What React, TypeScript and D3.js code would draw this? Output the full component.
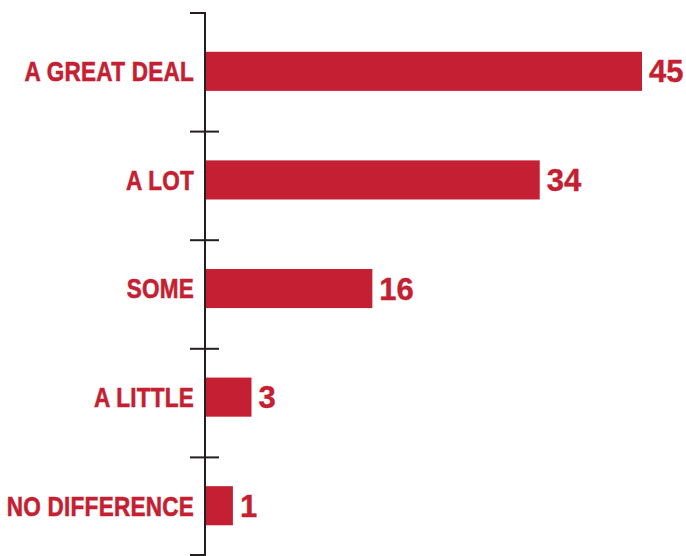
import React from "react";
import * as d3 from "d3";

const categories: string[] = ["A GREAT DEAL", "A LOT", "SOME", "A LITTLE", "NO DIFFERENCE"];
const values: number[] = [45, 34, 16, 3, 1];

const W = 686;
const H = 556;
const RED = "#C41F32";
const AXIS = "#231F20";
const LABEL_FONT = "'Liberation Sans', Arial, sans-serif";
const NUM_FONT = "'Liberation Sans', Arial, sans-serif";

export default function App() {
  const axisX = 205;
  const axisTop = 13;
  const axisBottom = 555;

  const y = d3.scaleBand<string>().domain(categories).range([23, 566]).paddingInner(0).paddingOuter(0);
  const x = d3.scaleLinear().domain([-2, 45]).range([axisX, 642]);

  const bw = y.bandwidth();
  const barH = bw * 0.36;
  const barOff = bw * 0.265;
  const labelFs = 27.5;
  const numFs = 31;
  const narrow = 0.82;

  const tickYs: number[] = [axisTop, ...categories.slice(1).map((c) => y(c) as number), axisBottom];

  return (
    <svg width={W} height={H} style={{ position: "absolute", left: 0, top: 0, background: "#fff" }}>
      {categories.map((c, i) => {
        const top = (y(c) as number) + barOff;
        const cy = top + barH / 2;
        const x1 = x(values[i]);
        return (
          <g key={c}>
            <rect x={axisX} y={top} width={x1 - axisX} height={barH} fill={RED} />
            <text
              transform={`translate(194,${cy + 0.358 * labelFs}) scale(${narrow},1)`}
              textAnchor="end"
              fontFamily={LABEL_FONT}
              fontWeight="bold"
              fontSize={labelFs}
              letterSpacing={0.3}
              fill={RED}
              stroke={RED}
              strokeWidth={0.6}
            >
              {c}
            </text>
            <text
              x={x1 + 7}
              y={cy + 0.358 * numFs}
              fontFamily={NUM_FONT}
              fontWeight="bold"
              fontSize={numFs}
              fill={RED}
              stroke={RED}
              strokeWidth={0.4}
            >
              {values[i]}
            </text>
          </g>
        );
      })}
      <line x1={axisX} x2={axisX} y1={axisTop - 1} y2={axisBottom + 1} stroke={AXIS} strokeWidth={2} />
      {tickYs.map((ty, i) => {
        const end = i === 0 || i === tickYs.length - 1;
        return (
          <line
            key={i}
            x1={190}
            x2={end ? axisX : 219}
            y1={ty}
            y2={ty}
            stroke={AXIS}
            strokeWidth={2}
          />
        );
      })}
    </svg>
  );
}
